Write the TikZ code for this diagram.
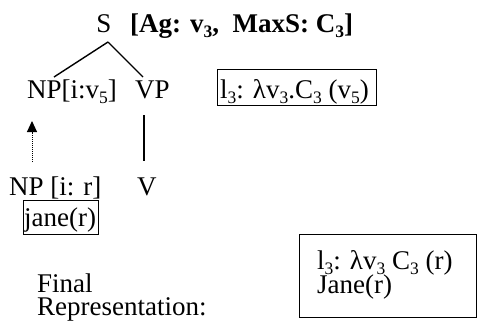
\documentclass[tikz,border=0pt]{standalone}
\usepackage{fontspec}
\setmainfont{Liberation Serif}
\usetikzlibrary{arrows.meta}
\newcommand\lowsub[1]{\raisebox{-0.22em}{\fontsize{17.5}{18}\selectfont #1}}
\begin{document}
\begin{tikzpicture}[x=1pt,y=-1pt,
  txt/.style={inner sep=0pt,anchor=base west,font=\fontsize{27}{31}\selectfont},
  boxed/.style={draw,line width=1.4pt,inner sep=0pt,anchor=north west},
  branch/.style={line width=1.4pt}]
\useasboundingbox (0,0) rectangle (478,327);
% top
\node[txt,anchor=base] (S) at (104,32) {S};
\node[txt] (feat) at (130,32) {\textbf{[Ag: v\lowsub{3},\ \ MaxS: C\lowsub{3}]}};
% second row
\node[txt] (np) at (27,98) {NP[i:v\lowsub{5}]};
\node[txt] (vp) at (135,98) {VP};
\node[boxed,minimum width=159,minimum height=36] (sem) at (217,69) {};
\node[txt] (semtext) at (220,98) {l\lowsub{3}: λv\lowsub{3}.C\lowsub{3} (v\lowsub{5})};
% branches
\coordinate (Sb) at (108,42);
\coordinate (npt) at (54,77);
\coordinate (vpt) at (143,77);
\draw[branch] (Sb) -- (npt);
\draw[branch] (Sb) -- (vpt);
% third row
\node[txt] (npr) at (9,195) {NP [i: r]};
\node[txt] (v) at (137,195) {V};
\coordinate (arrb) at (32,162);
\coordinate (arrt) at (32,121);
\draw[line width=1pt,densely dotted,-{Triangle[length=11pt,width=10pt]}] (arrb) -- (arrt);
\coordinate (vpb) at (144,115);
\coordinate (vt) at (144,161);
\draw[branch] (vpb) -- (vt);
\node[boxed,minimum width=75,minimum height=34] (janebox) at (23,200) {};
\node[txt] (jane) at (24,226) {jane(r)};
% final
\node[txt] (fin1) at (37,292) {Final};
\node[txt] (fin2) at (37,315) {Representation:};
\node[boxed,minimum width=177,minimum height=83] (finbox) at (299,234) {};
\node[txt] (f1) at (317,269) {l\lowsub{3}: λv\lowsub{3} C\lowsub{3} (r)};
\node[txt] (f2) at (317,293) {Jane(r)};
\end{tikzpicture}
\end{document}
